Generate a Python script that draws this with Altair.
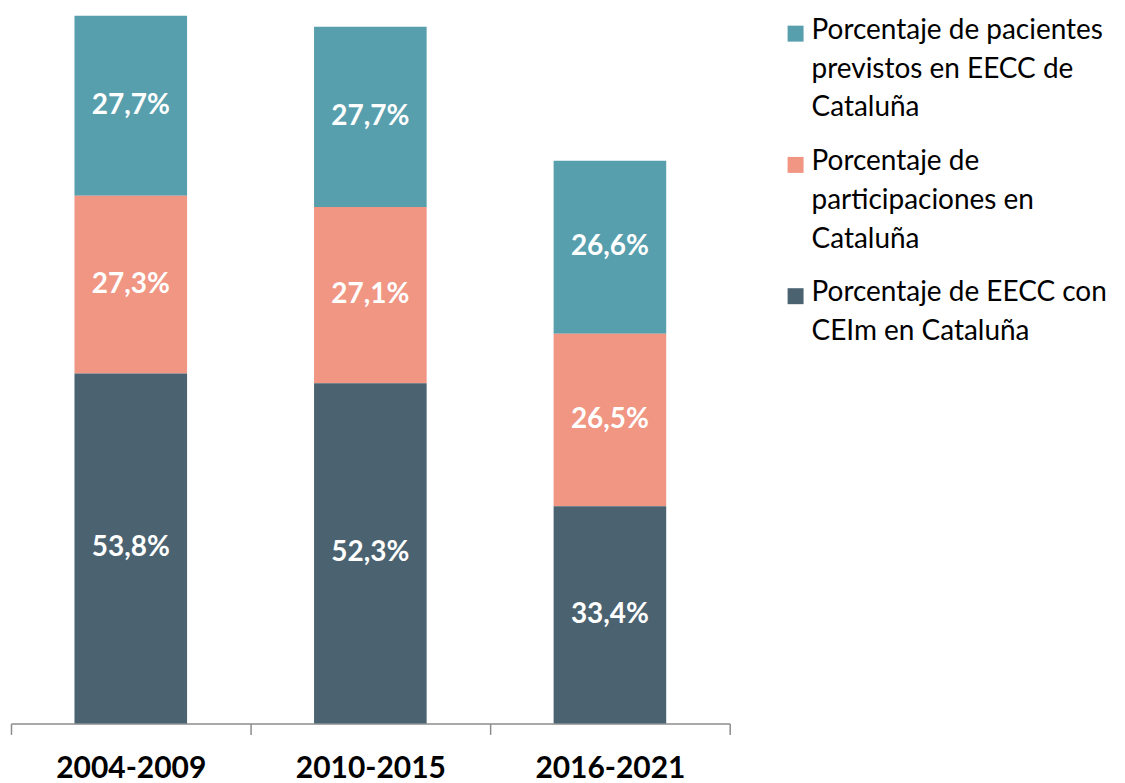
import altair as alt
import pandas as pd

PERIODS = ["2004-2009", "2010-2015", "2016-2021"]
SERIES = [
    "Porcentaje de pacientes previstos en EECC de Cataluña",
    "Porcentaje de participaciones en Cataluña",
    "Porcentaje de EECC con CEIm en Cataluña",
]
LEGEND_LINES = [
    ["Porcentaje de pacientes", "previstos en EECC de", "Cataluña"],
    ["Porcentaje de", "participaciones en", "Cataluña"],
    ["Porcentaje de EECC con", "CEIm en Cataluña"],
]
COLORS = ["#589fae", "#f09683", "#4b6371"]
STACK_ORDER = [2, 1, 0]  # 0 = bottom of the stack

PACIENTES = [27.7, 27.7, 26.6]
PARTICIPACIONES = [27.3, 27.1, 26.5]
EECC_CEIM = [53.8, 52.3, 33.4]

rows = []
for i, p in enumerate(PERIODS):
    for s, vals, o in zip(SERIES, [PACIENTES, PARTICIPACIONES, EECC_CEIM], STACK_ORDER):
        rows.append({"periodo": p, "serie": s, "valor": vals[i], "orden": o})
df = pd.DataFrame(rows)

FONT = "Lato"
color_scale = alt.Scale(domain=SERIES, range=COLORS)

x = alt.X(
    "periodo:N",
    sort=PERIODS,
    title=None,
    scale=alt.Scale(paddingInner=0, paddingOuter=0),
    axis=alt.Axis(
        labelAngle=0,
        tickBand="extent",
        tickSize=11,
        tickColor="#8c8c8c",
        tickWidth=1.5,
        domainColor="#8c8c8c",
        domainWidth=1.5,
        labelFont=FONT,
        labelFontSize=30,
        labelFontWeight="bold",
        labelColor="#000000",
        labelPadding=19,
    ),
)

base = alt.Chart(df).transform_stack(
    stack="valor",
    groupby=["periodo"],
    as_=["y0", "y1"],
    sort=[alt.SortField("orden", order="ascending")],
).transform_calculate(
    mid="(datum.y0 + datum.y1) / 2",
    etiqueta="replace(format(datum.valor, '.1f'), '.', ',') + '%'",
)

y_scale = alt.Scale(domain=[0, 109.87], nice=False, zero=True)

bars = base.mark_bar(width=alt.RelativeBandSize(0.47)).encode(
    x=x,
    y=alt.Y("y0:Q", scale=y_scale, axis=None),
    y2="y1:Q",
    color=alt.Color("serie:N", scale=color_scale, legend=None),
)

labels = base.mark_text(
    font=FONT, fontSize=28, fontWeight="bold", color="white", baseline="middle"
).encode(
    x=x,
    y=alt.Y("mid:Q", scale=y_scale, axis=None),
    text="etiqueta:N",
)

main = alt.layer(bars, labels).properties(width=720, height=716)

leg_df = pd.DataFrame({"serie": SERIES, "texto": ["\n".join(l) for l in LEGEND_LINES]})
ly = alt.Y("serie:N", sort=SERIES, axis=None, scale=alt.Scale(type="point", padding=0.19))

squares = alt.Chart(leg_df).mark_square(size=256, opacity=1, filled=True).encode(
    x=alt.value(8),
    y=ly,
    color=alt.Color("serie:N", scale=color_scale, legend=None),
)
texts = alt.Chart(leg_df).mark_text(
    align="left",
    baseline="top",
    dy=-17,
    lineBreak="\n",
    lineHeight=39,
    fontSize=28,
    font=FONT,
    color="#000000",
).encode(
    x=alt.value(24),
    y=ly,
    text="texto:N",
)
legend = alt.layer(squares, texts).properties(width=330, height=313)

chart = alt.hconcat(main, legend, spacing=57).properties(
    padding={"left": 2, "top": 0, "right": 0, "bottom": 0},
    background="white",
).configure_view(stroke=None)

chart.save("out.html", embed_options={"renderer": "svg", "actions": False})
